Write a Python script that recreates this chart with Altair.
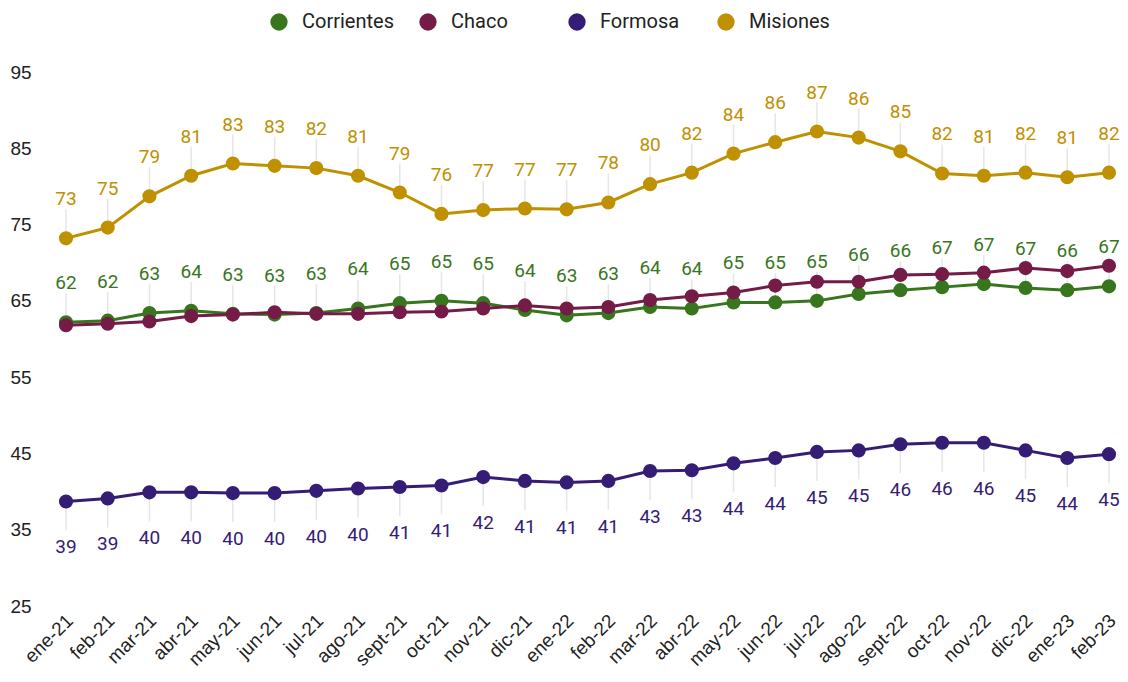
import altair as alt
import pandas as pd

months = ["ene-21", "feb-21", "mar-21", "abr-21", "may-21", "jun-21", "jul-21", "ago-21",
          "sept-21", "oct-21", "nov-21", "dic-21", "ene-22", "feb-22", "mar-22", "abr-22",
          "may-22", "jun-22", "jul-22", "ago-22", "sept-22", "oct-22", "nov-22", "dic-22",
          "ene-23", "feb-23"]

corrientes = [62.2, 62.4, 63.4, 63.7, 63.3, 63.2, 63.4, 64.0, 64.7, 65.0, 64.7, 63.8, 63.1,
              63.4, 64.2, 64.0, 64.8, 64.8, 65.0, 65.9, 66.4, 66.8, 67.2, 66.7, 66.4, 66.9]
chaco = [61.8, 62.0, 62.3, 63.0, 63.2, 63.5, 63.3, 63.3, 63.5, 63.6, 64.0, 64.4, 64.0,
         64.2, 65.1, 65.6, 66.1, 67.0, 67.5, 67.5, 68.4, 68.5, 68.7, 69.3, 68.9, 69.6]
formosa = [38.7, 39.1, 39.9, 39.9, 39.8, 39.8, 40.1, 40.4, 40.6, 40.8, 41.9, 41.4, 41.2,
           41.4, 42.7, 42.8, 43.7, 44.4, 45.2, 45.4, 46.2, 46.4, 46.4, 45.4, 44.4, 44.9]
misiones = [73.2, 74.6, 78.7, 81.4, 83.0, 82.7, 82.4, 81.4, 79.2, 76.4, 76.9, 77.1, 77.0,
            77.9, 80.3, 81.8, 84.3, 85.8, 87.2, 86.4, 84.6, 81.7, 81.4, 81.8, 81.2, 81.8]

series = ["Corrientes", "Chaco", "Formosa", "Misiones"]
colors = ["#38761d", "#741b47", "#351c75", "#bf9000"]
y_ticks = [25, 35, 45, 55, 65, 75, 85, 95]

rows = []
for name, vals in zip(series, [corrientes, chaco, formosa, misiones]):
    for m, v in zip(months, vals):
        rows.append({"mes": m, "serie": name, "valor": v})
df = pd.DataFrame(rows)

FONT = "Roboto"
AXFONT = "Liberation Sans"

x_enc = alt.X("mes:N", sort=months,
              scale=alt.Scale(type="point", padding=0.168, round=False),
              axis=alt.Axis(title=None, labelAngle=-45, labelFontSize=19, labelColor="#222222",
                            domain=False, ticks=False, grid=False, labelPadding=5,
                            labelOffset=-3, labelFont=AXFONT))
y_enc = alt.Y("valor:Q",
              scale=alt.Scale(domain=[25, 95], nice=False, zero=False),
              axis=alt.Axis(title=None, values=y_ticks, labelFontSize=19, labelColor="#222222",
                            domain=False, ticks=False, tickSize=0, grid=False,
                            labelAlign="left", labelPadding=49, labelFont=AXFONT))
color_scale = alt.Scale(domain=series, range=colors)
legend = alt.Legend(title=None, orient="none", direction="horizontal",
                    legendX=210, legendY=-60, symbolType="circle",
                    symbolSize=300, labelFontSize=20, labelColor="#222222",
                    labelFont=FONT, columnPadding=24, labelOffset=13, gridAlign="all",
                    symbolStrokeWidth=0, symbolOpacity=1)
color_leg = alt.Color("serie:N", scale=color_scale, legend=legend)
color_enc = alt.Color("serie:N", scale=color_scale, legend=None)

base = alt.Chart(df).encode(x=x_enc, y=y_enc)

above = base.transform_filter(
    alt.FieldOneOfPredicate(field="serie", oneOf=["Corrientes", "Misiones"]))
below = base.transform_filter(alt.FieldEqualPredicate(field="serie", equal="Formosa"))

rules_above = above.mark_rule(color="#e6e6e6", strokeWidth=1.5, y2Offset=-29).encode(
    y2="valor:Q")
rules_below = below.mark_rule(color="#e6e6e6", strokeWidth=1.5, y2Offset=29).encode(
    y2="valor:Q")

lines = base.mark_line(strokeWidth=3).encode(color=color_enc, detail="serie:N")

points = base.mark_point(filled=True, opacity=1, size=200).encode(color=color_enc)

# legend-only layer (draws nothing in the plot)
legend_layer = base.transform_filter("datum.valor < 0").mark_point(
    filled=True, opacity=1, size=300).encode(color=color_leg)

text_above = above.mark_text(dy=-39, fontSize=19, font=FONT, baseline="middle").encode(
    text=alt.Text("valor:Q", format=".0f"), color=color_enc)
text_below = below.mark_text(dy=46, fontSize=19, font=FONT, baseline="middle").encode(
    text=alt.Text("valor:Q", format=".0f"), color=color_enc)

chart = alt.layer(rules_above, rules_below, lines, points, text_above, text_below,
                  legend_layer).resolve_legend(color="independent").properties(
    width=1057, height=534,
    autosize=alt.AutoSizeParams(type="none"),
    padding={"left": 51, "top": 64, "right": 4, "bottom": 66},
).configure_view(stroke=None)

chart.save("out.html", embed_options={"renderer": "svg", "actions": False})
